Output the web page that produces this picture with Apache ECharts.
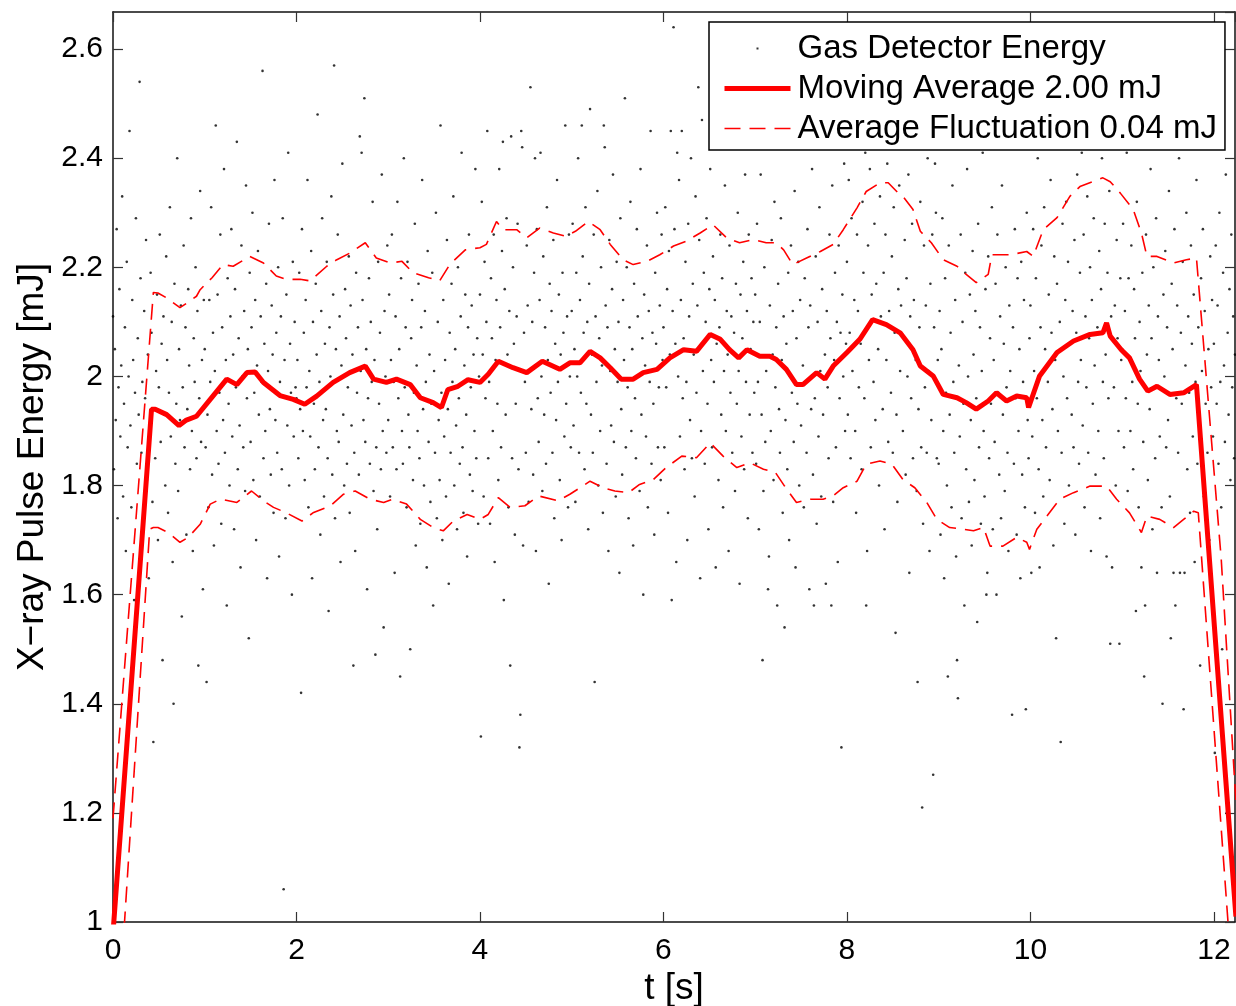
<!DOCTYPE html>
<html>
<head>
<meta charset="utf-8">
<title>X-ray Pulse Energy</title>
<script src="https://cdn.jsdelivr.net/npm/echarts@6/dist/echarts.min.js"></script>
<style>
  html, body { margin: 0; padding: 0; background: #fff; }
  #main { width: 1236px; height: 1006px; }
</style>
</head>
<body>
<div id="main"></div>
<script>
// time between two gas detector shots [s]
var dotStep = 0.01;

// gas detector energy per shot, in 0.01 mJ (one line = 0.2 s)
var gasDetector = [
  211,183,205,192,227,174,198,216,189,202,233,178,195,209,168,221,187,200,245,191,
  176,214,203,159,197,229,184,207,193,254,218,186,199,172,212,196,225,181,204,163,
  190,219,208,177,133,194,185,201,215,170,198,226,188,206,148,211,193,180,222,203,
  175,197,231,189,210,166,140,217,184,195,240,179,205,192,213,156,198,224,187,209,
  171,194,216,202,183,229,190,168,207,199,220,185,212,147,196,234,188,203,161,214,
  205,187,144,193,176,214,199,231,182,208,169,201,246,190,215,184,197,226,173,209,
  192,238,186,203,158,218,195,180,211,227,189,204,172,216,198,243,183,207,191,165,
  224,200,187,212,179,235,196,205,152,219,188,209,230,181,197,214,170,202,223,193,
  178,211,199,256,185,206,190,217,163,201,228,194,182,213,204,175,236,192,208,186,
  220,167,199,211,183,229,106,203,174,215,191,241,180,206,197,160,221,189,210,198,
  196,203,185,219,194,142,227,190,208,181,214,198,236,176,201,189,223,163,210,195,
  183,217,204,248,187,199,171,212,229,192,178,206,194,221,185,157,209,200,233,182,
  215,257,174,205,190,226,188,211,166,202,239,193,180,216,207,184,198,222,175,213,
  191,204,147,186,168,219,197,209,182,244,201,241,214,192,251,188,205,161,196,218,
  184,210,199,232,179,203,149,187,172,221,195,208,183,237,190,154,212,200,186,224,
  192,215,178,203,226,187,199,164,211,183,232,196,205,145,218,190,184,240,198,209,
  176,221,193,187,150,207,214,181,197,228,169,202,190,217,185,173,209,236,194,180,
  212,199,165,223,188,204,177,195,219,158,201,186,230,174,210,192,181,246,197,170,
  214,189,203,178,225,194,162,208,186,217,199,233,180,205,191,172,220,196,184,211,
  241,187,175,202,215,193,167,209,226,182,198,213,179,204,190,238,185,207,173,200,
  215,134,232,204,178,221,196,210,245,185,199,173,218,207,190,226,166,203,214,195,
  181,238,209,187,223,243,159,216,193,229,204,176,212,147,244,185,220,206,171,195,
  211,228,183,132,138,245,242,169,208,199,186,224,213,177,201,253,194,210,182,219,
  240,168,227,196,188,214,241,200,179,222,193,209,184,231,203,162,217,197,212,186,
  225,174,206,192,236,199,215,181,204,170,219,208,189,246,195,211,176,226,200,187,
  212,228,191,205,177,219,200,240,186,214,197,246,222,208,183,231,195,210,172,217,
  249,193,204,186,226,144,211,199,234,180,207,190,220,202,175,246,242,213,184,209,
  168,225,201,191,216,237,188,205,178,221,199,210,164,229,194,182,214,203,251,187,
  220,198,174,209,232,190,205,169,217,196,185,227,211,200,179,238,193,207,160,215,
  202,189,224,176,212,199,245,184,208,195,171,219,206,230,187,198,213,181,226,203,
  209,187,231,198,216,175,223,204,245,159,212,264,227,206,166,241,200,236,189,214,
  245,196,207,183,221,199,170,228,211,192,240,185,217,204,178,233,197,213,253,225,
  163,190,247,201,219,184,210,229,195,172,216,238,203,187,222,199,214,165,206,243,
  181,209,226,193,218,176,201,235,190,212,204,168,224,197,211,186,249,208,179,217,
  195,230,201,162,215,189,207,221,183,237,199,212,174,226,193,205,218,186,210,197,
  215,184,228,199,172,210,237,193,148,179,220,188,201,246,161,167,213,190,225,204,
  181,232,198,209,158,217,194,186,229,203,175,211,154,192,206,183,219,170,200,224,
  197,212,188,234,165,207,195,221,180,214,191,250,202,176,218,199,186,227,209,161,
  213,194,238,182,158,196,222,173,210,189,231,201,178,216,193,243,204,162,212,198,
  185,226,207,158,235,177,203,219,187,210,166,224,196,208,132,215,200,239,190,206,
  221,193,236,208,185,229,201,247,214,190,175,226,212,198,255,206,183,232,219,196,
  241,158,168,224,203,238,187,215,250,199,228,192,217,262,205,180,233,211,246,194,
  219,172,226,203,239,188,212,257,197,222,186,231,208,153,193,177,216,235,201,213,
  249,190,207,225,182,218,200,237,164,211,196,228,185,214,242,203,179,144,194,209,
  232,187,121,173,224,198,213,186,240,201,168,217,192,226,127,209,239,230,185,203,
  184,212,171,205,229,190,163,218,197,180,145,224,193,208,176,235,199,186,214,167,
  148,141,202,189,226,174,210,195,158,219,183,238,200,177,215,192,169,223,204,181,
  212,196,155,228,187,209,173,201,241,190,178,216,160,164,222,185,207,195,231,172,
  203,188,217,160,226,197,182,211,174,235,193,206,179,220,198,186,168,213,201,244,
  138,209,184,227,196,171,218,190,205,163,221,182,199,214,176,139,230,192,185,207,
  213,164,189,227,201,175,218,196,240,183,165,209,224,192,178,231,205,187,253,199,
  215,181,236,208,194,169,222,203,152,217,190,245,210,133,186,228,200,173,214,232,
  196,221,180,206,249,193,212,187,225,171,208,237,199,184,219,203,241,191,226,176,
  211,198,233,186,207,220,168,214,195,229,202,182,247,209,190,223,174,216,240,199,
  185,228,204,167,219,196,234,151,211,165,242,198,213,180,225,207,190,151,218,203,
  205,228,187,212,196,241,179,218,203,190,224,199,183,216,207,157,232,195,176,210,
  201,165,219,188,145,158,226,204,181,213,194,238,207,172,220,198,185,229,164,211,
  203,189,246,176,140,215,200,223,187,209,192,234,178,152,217,205,164,227,158,196,
  213,186,240,164,208,195,221,139,164,202,230,183,211,197,175,224,206,189,215,166,
  199,236,184,209,193,147,218,201,227,178,212,195,243,186,205,170,222,198,214,189,
  206,131,224,195,213,184,230,199,176,150,219,202,188,237,120,208,193,216,181,226,
  198,211,185,204
];

// moving average [t (s), energy (mJ)]
var movingAverage = [
  [0,0.98],[0.42,1.94],[0.46,1.94],[0.585,1.93],[0.72,1.91],[0.8,1.92],[0.91,1.927],
  [1.06,1.958],[1.24,1.995],[1.35,1.985],[1.46,2.007],[1.55,2.008],[1.64,1.989],[1.82,1.965],
  [1.965,1.958],[2.09,1.949],[2.22,1.964],[2.4,1.989],[2.58,2.007],[2.75,2.019],[2.84,1.995],
  [2.98,1.989],[3.09,1.995],[3.24,1.985],[3.35,1.961],[3.49,1.952],[3.58,1.943],[3.65,1.976],
  [3.76,1.982],[3.87,1.994],[4.0,1.989],[4.09,2.004],[4.2,2.028],[4.36,2.016],[4.51,2.007],
  [4.68,2.028],[4.87,2.013],[4.98,2.025],[5.09,2.025],[5.2,2.046],[5.31,2.034],[5.42,2.016],
  [5.54,1.995],[5.67,1.995],[5.78,2.007],[5.93,2.013],[6.07,2.034],[6.22,2.049],[6.36,2.046],
  [6.51,2.077],[6.62,2.068],[6.72,2.049],[6.82,2.034],[6.91,2.049],[7.05,2.037],[7.16,2.037],
  [7.23,2.031],[7.34,2.013],[7.45,1.985],[7.52,1.985],[7.67,2.007],[7.76,1.995],[7.85,2.019],
  [8.0,2.044],[8.14,2.068],[8.28,2.104],[8.43,2.095],[8.58,2.08],[8.72,2.049],[8.8,2.019],
  [8.94,2.001],[9.05,1.967],[9.2,1.961],[9.3,1.952],[9.41,1.94],[9.54,1.955],[9.63,1.97],
  [9.74,1.955],[9.85,1.964],[9.96,1.961],[9.98,1.943],[10.1,2.001],[10.29,2.044],[10.47,2.065],
  [10.65,2.077],[10.79,2.08],[10.83,2.098],[10.87,2.074],[10.99,2.049],[11.08,2.034],[11.19,1.995],
  [11.28,1.973],[11.38,1.982],[11.52,1.967],[11.67,1.97],[11.81,1.985],[11.83,1.985],[12.24,1.01]
];

// average + fluctuation
var fluctUpper = [
  [0,1.19],[0.44,2.154],[0.49,2.153],[0.585,2.144],[0.73,2.126],[0.8,2.134],[0.91,2.147],
  [0.95,2.159],[1.08,2.181],[1.2,2.205],[1.31,2.202],[1.49,2.22],[1.64,2.208],[1.78,2.184],
  [1.89,2.178],[2.04,2.178],[2.15,2.175],[2.33,2.202],[2.44,2.214],[2.58,2.226],[2.75,2.245],
  [2.87,2.217],[3.02,2.208],[3.15,2.211],[3.27,2.19],[3.44,2.181],[3.56,2.175],[3.67,2.205],
  [3.84,2.232],[4.0,2.236],[4.07,2.242],[4.18,2.284],[4.25,2.269],[4.4,2.269],[4.51,2.254],
  [4.65,2.272],[4.8,2.263],[4.93,2.257],[5.04,2.266],[5.18,2.284],[5.31,2.269],[5.42,2.242],
  [5.56,2.214],[5.67,2.205],[5.82,2.211],[5.96,2.223],[6.11,2.239],[6.25,2.248],[6.4,2.263],
  [6.54,2.278],[6.69,2.254],[6.83,2.245],[6.98,2.251],[7.12,2.245],[7.23,2.245],[7.31,2.232],
  [7.41,2.205],[7.56,2.217],[7.71,2.229],[7.85,2.242],[7.96,2.269],[8.11,2.309],[8.21,2.339],
  [8.36,2.355],[8.45,2.355],[8.56,2.336],[8.61,2.33],[8.72,2.306],[8.8,2.266],[8.92,2.245],
  [9.05,2.214],[9.2,2.202],[9.3,2.187],[9.41,2.172],[9.54,2.187],[9.58,2.223],[9.78,2.223],
  [9.96,2.229],[10.03,2.22],[10.14,2.269],[10.29,2.291],[10.43,2.33],[10.54,2.348],[10.68,2.357],
  [10.79,2.364],[10.87,2.357],[10.98,2.336],[11.12,2.306],[11.21,2.263],[11.27,2.22],[11.38,2.22],
  [11.56,2.208],[11.7,2.214],[11.81,2.217],[12.08,1.665],[12.24,1.22]
];

// average - fluctuation
var fluctLower = [
  [0,0.67],[0.4,1.72],[0.44,1.723],[0.49,1.723],[0.6,1.714],[0.73,1.696],[0.82,1.705],
  [0.95,1.729],[1.06,1.766],[1.17,1.775],[1.35,1.769],[1.51,1.79],[1.64,1.772],[1.75,1.76],
  [1.89,1.75],[2.06,1.735],[2.18,1.75],[2.37,1.763],[2.51,1.784],[2.64,1.79],[2.8,1.775],
  [2.95,1.769],[3.05,1.775],[3.2,1.766],[3.35,1.738],[3.49,1.723],[3.6,1.717],[3.71,1.735],
  [3.86,1.747],[4.0,1.738],[4.09,1.747],[4.2,1.778],[4.33,1.76],[4.49,1.763],[4.64,1.781],
  [4.85,1.772],[4.98,1.784],[5.2,1.808],[5.34,1.796],[5.47,1.79],[5.62,1.787],[5.74,1.802],
  [5.89,1.811],[6.03,1.833],[6.2,1.854],[6.36,1.851],[6.51,1.878],[6.65,1.854],[6.8,1.833],
  [6.94,1.842],[7.09,1.83],[7.22,1.824],[7.32,1.799],[7.45,1.769],[7.6,1.775],[7.74,1.775],
  [7.85,1.781],[7.96,1.796],[8.11,1.808],[8.21,1.839],[8.36,1.845],[8.49,1.839],[8.61,1.811],
  [8.74,1.796],[8.87,1.769],[8.98,1.738],[9.12,1.723],[9.27,1.72],[9.38,1.717],[9.49,1.723],
  [9.56,1.689],[9.7,1.689],[9.85,1.705],[9.96,1.696],[9.99,1.683],[10.07,1.72],[10.18,1.744],
  [10.32,1.775],[10.47,1.787],[10.65,1.799],[10.83,1.799],[10.94,1.775],[11.08,1.75],[11.21,1.714],
  [11.27,1.744],[11.41,1.738],[11.56,1.723],[11.67,1.738],[11.78,1.753],[11.83,1.75],[12.24,0.8]
];

var legendNames = ['Gas Detector Energy', 'Moving Average 2.00 mJ', 'Average Fluctuation 0.04 mJ'];
var xRange = [0, 12.23];
var yRange = [1, 2.668];
var xStep = 2;
var yStep = 0.2;

var chart = echarts.init(document.getElementById('main'));
var font = '"Liberation Sans", Arial, Helvetica, sans-serif';

var dots = gasDetector.map(function (v, i) {
  return [+(i * dotStep).toFixed(2), v / 100];
});

var boxLine = { show: true, onZero: false, lineStyle: { color: '#111', width: 1.5 } };
var ticks = { show: true, inside: true, length: 10, lineStyle: { color: '#333', width: 1.2 } };
var xTickFont = { fontSize: 30, color: '#000', fontFamily: font, margin: 14, showMaxLabel: false };
var yTickFont = { fontSize: 30, color: '#000', fontFamily: font, margin: 10, showMaxLabel: false };
var nameFont = { fontSize: 37, color: '#000', fontFamily: font };
// hide the marker that line series put in the middle of their legend sample
var noMarker = { color: 'transparent', borderColor: 'transparent', borderWidth: 0 };

var option = {
  animation: false,
  backgroundColor: '#fff',
  grid: { left: 113, top: 12, right: 1, bottom: 84, containLabel: false, outerBoundsMode: 'none' },
  legend: {
    orient: 'vertical',
    left: 709,
    top: 22,
    padding: [10, 8, 5, 13],
    itemWidth: 66,
    itemHeight: 20,
    itemGap: 7,
    backgroundColor: '#fff',
    borderColor: '#000',
    borderWidth: 1.5,
    borderRadius: 0,
    selectedMode: false,
    textStyle: { fontSize: 33, color: '#000', fontFamily: font, padding: [0, 0, 0, 2] },
    data: [
      { name: legendNames[0], icon: 'path://M0,0M66,20M32,9h2v2h-2z' },
      { name: legendNames[1], itemStyle: noMarker, lineStyle: { width: 5 } },
      { name: legendNames[2], itemStyle: noMarker, lineStyle: { width: 1.6 } }
    ]
  },
  xAxis: [
    {
      type: 'value', min: xRange[0], max: xRange[1], interval: xStep, position: 'bottom',
      name: 't [s]', nameLocation: 'middle', nameGap: 48, nameMoveOverlap: false, nameTextStyle: nameFont,
      axisLine: boxLine, axisTick: ticks, axisLabel: xTickFont, splitLine: { show: false }
    },
    {
      type: 'value', min: xRange[0], max: xRange[1], interval: xStep, position: 'top',
      axisLine: boxLine, axisTick: ticks, axisLabel: { show: false }, splitLine: { show: false }
    }
  ],
  yAxis: [
    {
      type: 'value', min: yRange[0], max: yRange[1], interval: yStep, position: 'left',
      name: 'X\u2212ray Pulse Energy [mJ]', nameLocation: 'middle', nameGap: 62, nameMoveOverlap: false, nameTextStyle: nameFont,
      axisLine: boxLine, axisTick: ticks, axisLabel: yTickFont, splitLine: { show: false }
    },
    {
      type: 'value', min: yRange[0], max: yRange[1], interval: yStep, position: 'right',
      axisLine: boxLine, axisTick: ticks, axisLabel: { show: false }, splitLine: { show: false }
    }
  ],
  series: [
    {
      name: legendNames[0], type: 'scatter', data: dots,
      symbol: 'circle', symbolSize: 2.6, itemStyle: { color: '#000' }, silent: true, z: 1
    },
    {
      name: legendNames[1], type: 'line', data: movingAverage, symbol: 'none',
      lineStyle: { color: '#ff0000', width: 5 }, itemStyle: { color: '#ff0000' }, silent: true, z: 3
    },
    {
      name: legendNames[2], type: 'line', data: fluctUpper, symbol: 'none',
      lineStyle: { color: '#ff0000', width: 1.6, type: [16, 9] }, itemStyle: { color: '#ff0000' }, silent: true, z: 2
    },
    {
      name: legendNames[2], type: 'line', data: fluctLower, symbol: 'none',
      lineStyle: { color: '#ff0000', width: 1.6, type: [16, 9] }, itemStyle: { color: '#ff0000' }, silent: true, z: 2
    }
  ]
};

chart.setOption(option);
</script>
</body>
</html>
